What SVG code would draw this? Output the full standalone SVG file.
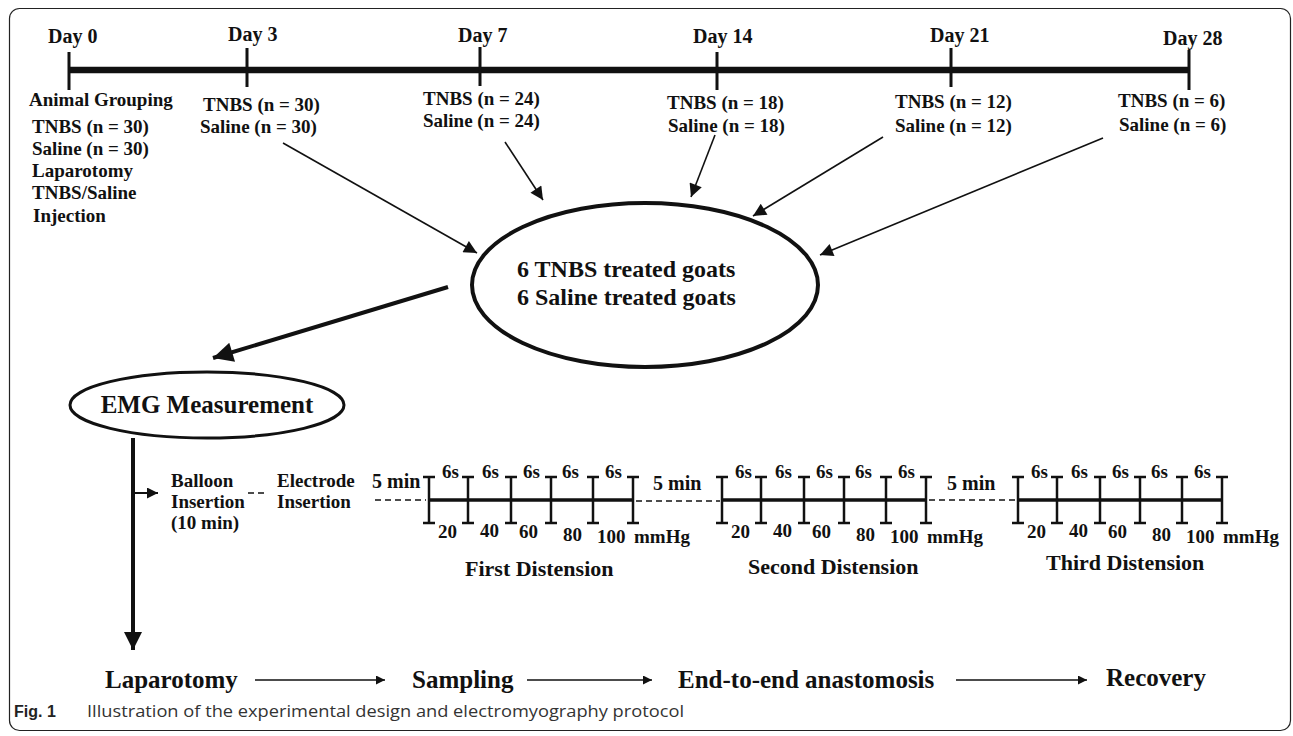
<svg xmlns="http://www.w3.org/2000/svg" width="1293" height="736" viewBox="0 0 1293 736">
<style>
.t{font-family:"Liberation Serif","Times New Roman",serif;font-weight:bold;fill:#111}
.day{font-size:20px}
.lab{font-size:19px}
.big{font-size:24px}
.bot{font-size:25px}
.sc{font-size:19px}
.dis{font-size:22px}
.ln{stroke:#111;fill:none}
.dash{stroke:#111;stroke-width:1.6;stroke-dasharray:6 4;fill:none}
</style>
<defs>
<marker id="ah" viewBox="0 0 10 10" refX="10" refY="5" markerWidth="18" markerHeight="13" markerUnits="userSpaceOnUse" orient="auto"><path d="M0,0 L10,5 L0,10 z" fill="#111"/></marker>
<marker id="ahb" viewBox="0 0 10 10" refX="10" refY="5" markerWidth="28" markerHeight="20" markerUnits="userSpaceOnUse" orient="auto"><path d="M0,0 L10,5 L0,10 z" fill="#111"/></marker>
<marker id="ahv" viewBox="0 0 10 10" refX="10" refY="5" markerWidth="30" markerHeight="18" markerUnits="userSpaceOnUse" orient="auto"><path d="M0,0 L10,5 L0,10 z" fill="#111"/></marker>
<marker id="ahs" viewBox="0 0 10 10" refX="10" refY="5" markerWidth="13" markerHeight="11" markerUnits="userSpaceOnUse" orient="auto"><path d="M0,0 L10,5 L0,10 z" fill="#111"/></marker>
<marker id="ahh" viewBox="0 0 10 10" refX="10" refY="5" markerWidth="15" markerHeight="9" markerUnits="userSpaceOnUse" orient="auto"><path d="M0,0 L10,5 L0,10 z" fill="#111"/></marker>
<g id="scale">
<line x1="0" y1="0" x2="204" y2="0" stroke="#111" stroke-width="3.5"/>
<path d="M0,-23V23M39,-23V23M82,-23V23M122,-23V23M164,-23V23M204,-23V23M-6,-23H6M33,-23H45M76,-23H88M116,-23H128M158,-23H170M198,-23H210M-6,23H6M33,23H45M76,23H88M116,23H128M158,23H170M198,23H210" stroke="#111" stroke-width="2.5" fill="none"/>
<text class="t sc" y="-22"><tspan x="13">6s</tspan><tspan x="53">6s</tspan><tspan x="94">6s</tspan><tspan x="133">6s</tspan><tspan x="176">6s</tspan></text>
<text class="t sc"><tspan x="9" y="38">20</tspan><tspan x="51" y="37">40</tspan><tspan x="90" y="38">60</tspan><tspan x="134" y="41">80</tspan><tspan x="168" y="43">100</tspan><tspan x="205" y="43">mmHg</tspan></text>
</g>
</defs>
<rect x="9.5" y="8.5" width="1281" height="722" rx="10" fill="#fff" stroke="#222" stroke-width="1.2"/>

<g id="timeline">
<line x1="69" y1="70" x2="1189" y2="70" stroke="#111" stroke-width="6.5"/>
<path d="M69,52V90M247,48V87M480,47V86M717,52V90M951,48V87M1189,50V90" stroke="#111" stroke-width="3" fill="none"/>
<text class="t day" x="48" y="43">Day 0</text>
<text class="t day" x="228" y="41">Day 3</text>
<text class="t day" x="458" y="42">Day 7</text>
<text class="t day" x="693" y="43">Day 14</text>
<text class="t day" x="930" y="42">Day 21</text>
<text class="t day" x="1163" y="45">Day 28</text>
</g>

<g id="day0">
<text class="t lab" x="29" y="106">Animal Grouping</text>
<text class="t lab" x="32" y="133">TNBS (n = 30)</text>
<text class="t lab" x="32" y="155">Saline (n = 30)</text>
<text class="t lab" x="32" y="177">Laparotomy</text>
<text class="t lab" x="32" y="199">TNBS/Saline</text>
<text class="t lab" x="33" y="222">Injection</text>
</g>
<g id="day3"><text class="t lab" x="203" y="111">TNBS (n = 30)</text><text class="t lab" x="200" y="133">Saline (n = 30)</text></g>
<g id="day7"><text class="t lab" x="423" y="105">TNBS (n = 24)</text><text class="t lab" x="423" y="127">Saline (n = 24)</text></g>
<g id="day14"><text class="t lab" x="667" y="109">TNBS (n = 18)</text><text class="t lab" x="668" y="132">Saline (n = 18)</text></g>
<g id="day21"><text class="t lab" x="895" y="108">TNBS (n = 12)</text><text class="t lab" x="895" y="132">Saline (n = 12)</text></g>
<g id="day28"><text class="t lab" x="1118" y="107">TNBS (n = 6)</text><text class="t lab" x="1119" y="131">Saline (n = 6)</text></g>

<g id="goats">
<ellipse cx="645" cy="285" rx="173" ry="82" fill="none" stroke="#111" stroke-width="4"/>
<text class="t big" x="517" y="277">6 TNBS treated goats</text>
<text class="t big" x="517" y="305">6 Saline treated goats</text>
</g>

<g id="emg">
<ellipse cx="207" cy="405" rx="137" ry="33" fill="none" stroke="#111" stroke-width="3"/>
<text class="t bot" x="207" y="413" text-anchor="middle">EMG Measurement</text>
</g>

<g id="protocol">
<text class="t lab" x="171" y="487">Balloon</text>
<text class="t lab" x="171" y="508">Insertion</text>
<text class="t lab" x="171" y="529">(10 min)</text>
<text class="t lab" x="277" y="487">Electrode</text>
<text class="t lab" x="277" y="508">Insertion</text>
<text class="t sc" x="372" y="488" style="font-size:20px">5 min</text>
<text class="t sc" x="653" y="490" style="font-size:20px">5 min</text>
<text class="t sc" x="947" y="490" style="font-size:20px">5 min</text>
<use href="#scale" x="429" y="500"/>
<use href="#scale" x="722" y="500"/>
<use href="#scale" x="1018" y="500"/>
<text class="t dis" x="465" y="576">First Distension</text>
<text class="t dis" x="748" y="574">Second Distension</text>
<text class="t dis" x="1046" y="570">Third Distension</text>
</g>

<g id="steps">
<text class="t bot" x="105" y="688">Laparotomy</text>
<text class="t bot" x="412" y="688">Sampling</text>
<text class="t bot" x="678" y="688">End-to-end anastomosis</text>
<text class="t bot" x="1106" y="686">Recovery</text>
</g>

<g id="connectors">
<line class="ln" x1="283" y1="143" x2="477" y2="253" stroke-width="1.6" marker-end="url(#ah)"/>
<line class="ln" x1="505" y1="142" x2="543" y2="200" stroke-width="1.6" marker-end="url(#ah)"/>
<line class="ln" x1="715" y1="135" x2="691" y2="197" stroke-width="1.6" marker-end="url(#ah)"/>
<line class="ln" x1="883" y1="137" x2="753" y2="216" stroke-width="1.6" marker-end="url(#ah)"/>
<line class="ln" x1="1103" y1="138" x2="820" y2="255" stroke-width="1.6" marker-end="url(#ah)"/>
<line class="ln" x1="448" y1="287" x2="213" y2="358" stroke-width="4" marker-end="url(#ahb)"/>
<line class="ln" x1="133" y1="438" x2="133" y2="650" stroke-width="4" marker-end="url(#ahv)"/>
<line class="ln" x1="133" y1="493" x2="158" y2="493" stroke-width="2" marker-end="url(#ahs)"/>
<line class="dash" x1="248" y1="493" x2="268" y2="493" stroke-dasharray="8 4"/>
<line class="dash" x1="375" y1="500" x2="426" y2="500"/>
<line class="dash" x1="636" y1="501" x2="720" y2="501"/>
<line class="dash" x1="929" y1="500" x2="1015" y2="500"/>
<line class="ln" x1="255" y1="680" x2="385" y2="680" stroke-width="1.6" marker-end="url(#ahh)"/>
<line class="ln" x1="527" y1="680" x2="652" y2="680" stroke-width="1.6" marker-end="url(#ahh)"/>
<line class="ln" x1="956" y1="680" x2="1087" y2="680" stroke-width="1.6" marker-end="url(#ahh)"/>
</g>

<g id="caption">
<text x="14" y="717" style="font-family:'Liberation Sans',Arial,sans-serif;font-size:16px;font-weight:bold;fill:#222">Fig. 1</text>
<text x="87" y="717" textLength="597" lengthAdjust="spacingAndGlyphs" style="font-family:'Open Sans','Liberation Sans',sans-serif;font-size:16px;fill:#333">Illustration of the experimental design and electromyography protocol</text>
</g>
</svg>
